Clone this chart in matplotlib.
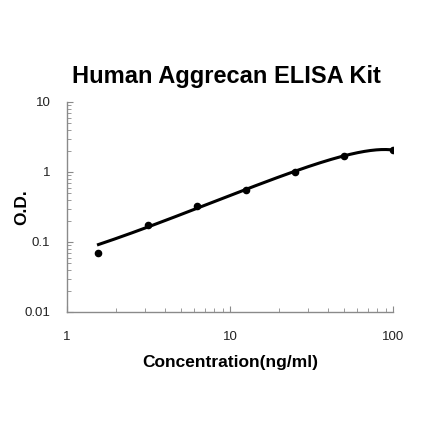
import numpy as np
import matplotlib
matplotlib.use("Agg")
import matplotlib.pyplot as plt
from matplotlib.ticker import LogLocator, NullFormatter

concentration = [1.56, 3.125, 6.25, 12.5, 25, 50, 100]
od = [0.070, 0.175, 0.33, 0.553, 1.01, 1.71, 2.06]
x_ticks = [1, 10, 100]
x_tick_labels = ["1", "10", "100"]
y_ticks = [0.01, 0.1, 1, 10]
y_tick_labels = ["0.01", "0.1", "1", "10"]

plt.rcParams['font.family'] = ['Liberation Sans', 'DejaVu Sans']

xarr = np.array(concentration, dtype=float)
yarr = np.array(od, dtype=float)
# polynomial (order 2) trendline fitted to the standard points
coef = np.polyfit(xarr, yarr, 2)

fig = plt.figure(figsize=(4.21, 4.21), dpi=100)
ax = fig.add_axes([67/421, 1-312/421, (393-67)/421, (312-102)/421])

xs = np.logspace(np.log10(xarr[0]), np.log10(xarr[-1]), 300)
ax.plot(xs, np.polyval(coef, xs), color='black', lw=2.2, zorder=2)
ax.scatter(concentration, od, s=20, color='black', zorder=3)

ax.set_xscale('log')
ax.set_yscale('log')
ax.set_xlim(1, 100)
ax.set_ylim(0.01, 10)
ax.set_xticks(x_ticks, x_tick_labels, fontsize=9.5)
ax.set_yticks(y_ticks, y_tick_labels, fontsize=9.5)
ax.xaxis.set_minor_locator(LogLocator(base=10, subs=np.arange(2, 10)))
ax.yaxis.set_minor_locator(LogLocator(base=10, subs=np.arange(2, 10)))
ax.xaxis.set_minor_formatter(NullFormatter())
ax.yaxis.set_minor_formatter(NullFormatter())

gray = '#8a8a8a'
for s in ['top', 'right']:
    ax.spines[s].set_visible(False)
for s in ['left', 'bottom']:
    ax.spines[s].set_color(gray)
    ax.spines[s].set_linewidth(1.0)
ax.tick_params(axis='both', which='both', direction='in', color=gray, labelcolor='#222222')
ax.tick_params(axis='both', which='major', length=4)
ax.tick_params(axis='both', which='minor', length=3)
ax.tick_params(axis='x', which='major', pad=14)
ax.tick_params(axis='y', which='major', pad=12)

fig.text(226/421, 1-76/421, "Human Aggrecan ELISA Kit", ha='center', va='center',
         fontsize=17, fontweight='bold')
fig.text(230/421, 1-362/421, "Concentration(ng/ml)", ha='center', va='center',
         fontsize=12.5, fontweight='bold')
fig.text(22/421, 1-207/421, "O.D.", ha='center', va='center', rotation=90,
         fontsize=12.5, fontweight='bold')

fig.savefig("out.png", dpi=100, facecolor='white')
